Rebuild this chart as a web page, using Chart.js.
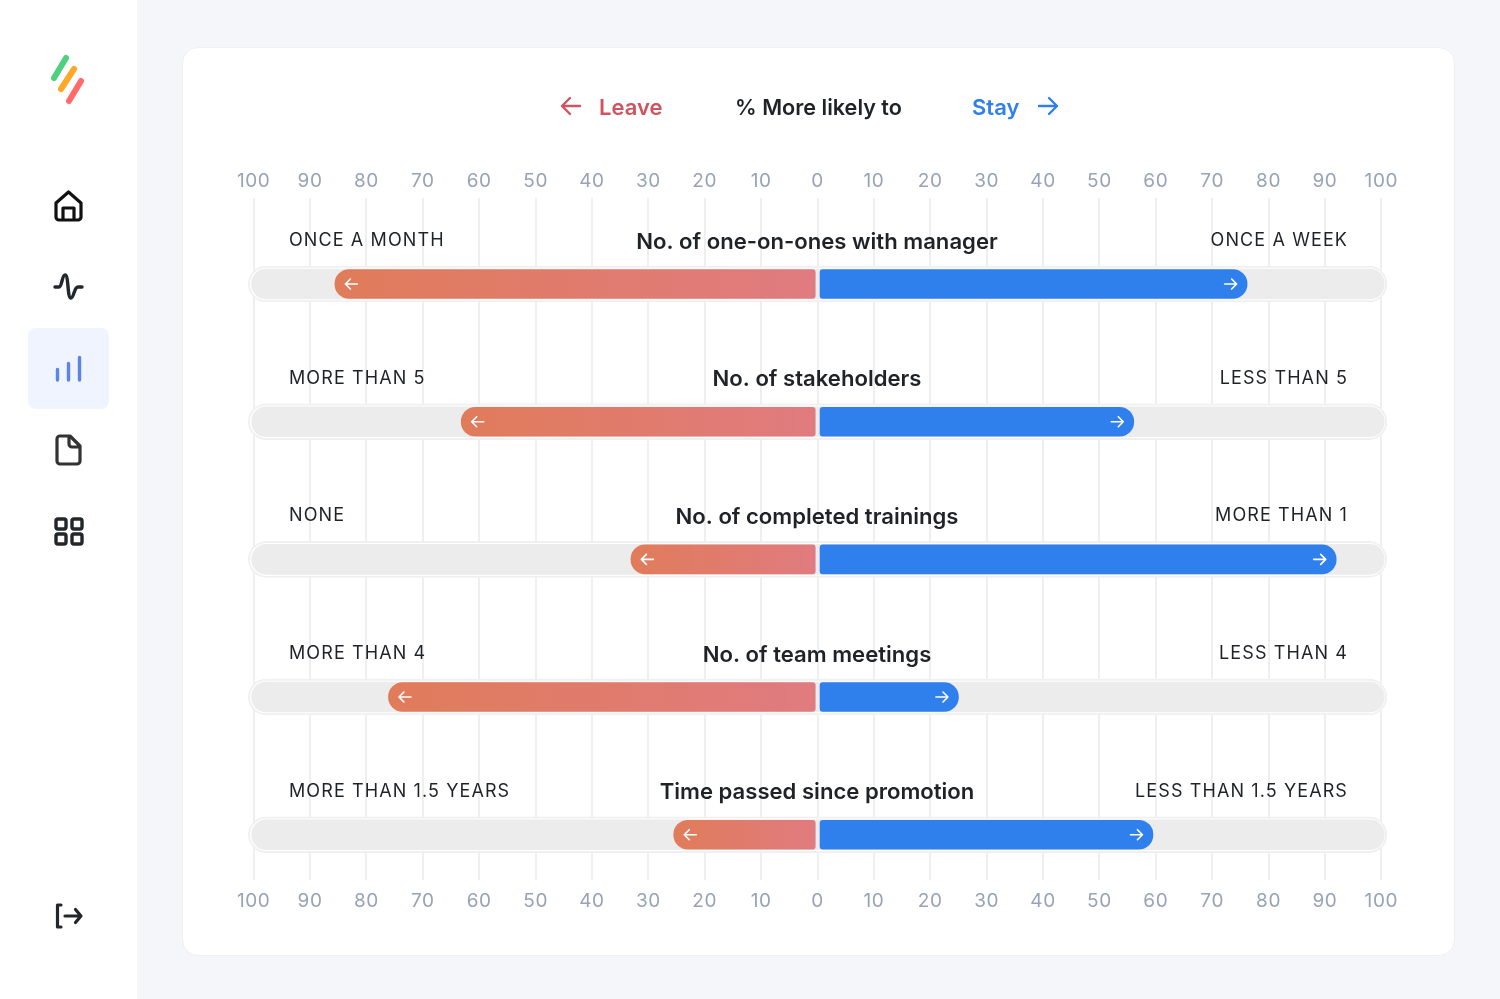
<!DOCTYPE html>
<html>
<head>
<meta charset="utf-8">
<title>% More likely to</title>
<script src="https://cdn.jsdelivr.net/npm/chart.js@4/dist/chart.umd.min.js"></script>
<style>
  html, body { margin: 0; padding: 0; background: #f5f6fa; }
  body { width: 1500px; height: 999px; position: relative; overflow: hidden; font-family: Inter, sans-serif; }
  #sidebar { position: absolute; left: 0; top: 0; width: 137px; height: 999px; background: #fff; }
  #card { position: absolute; left: 182px; top: 47px; width: 1271px; height: 907px; background: #fff; border: 1.5px solid #eef0f3; border-radius: 16px; }
  #chart { position: absolute; left: 0; top: 0; }
  .head { position: absolute; top: 93px; font-size: 22px; font-weight: 600; line-height: 28px; white-space: nowrap; }
  svg.abs { position: absolute; left: 0; top: 0; }
</style>
</head>
<body>
<div id="sidebar"></div>
<div id="card"></div>
<canvas id="chart" width="1500" height="999"></canvas>

<div class="head" style="left:599px;color:#cf5460">Leave</div>
<div class="head" style="left:735px;color:#1f2328;font-size:21.6px">% More likely to</div>
<div class="head" style="left:972px;color:#2f80ed">Stay</div>

<svg class="abs" width="1500" height="999" fill="none" stroke-linecap="round" stroke-linejoin="round">
  <!-- header arrows -->
  <path d="M580 106H562M570 98L562 106L570 114" stroke="#cf5460" stroke-width="2.4"/>
  <path d="M1039 106H1057M1049 98L1057 106L1049 114" stroke="#2f80ed" stroke-width="2.4"/>
  <!-- logo -->
  <path d="M66 58L54 78" stroke="#4ed07f" stroke-width="6"/>
  <path d="M74 69L61 89" stroke="#ffa726" stroke-width="6"/>
  <path d="M81 81L69 101" stroke="#ff6b6b" stroke-width="6"/>
  <!-- nav icons -->
  <path d="M56 203L68.5 192L81 203V217a3 3 0 0 1-3 3H59a3 3 0 0 1-3-3Z M63 220V208H74V220" stroke="#111" stroke-width="3.2"/>
  <path d="M55 287H59C62 287 62 275 65 275C69 275 67 298 71 298C74 298 74 287 78 287H82" stroke="#22272b" stroke-width="3.4"/>
  <rect x="28" y="328" width="81" height="81" rx="8" fill="#f0f4ff"/>
  <path d="M57.5 369.5V380M68.5 363.5V380M79.5 357.5V380" stroke="#5b84e8" stroke-width="3.4"/>
  <path d="M60 436H70L80 446V461a3 3 0 0 1-3 3H60a3 3 0 0 1-3-3V439a3 3 0 0 1 3-3Z M69 436V444a3 3 0 0 0 3 3H80" stroke="#333" stroke-width="3.2"/>
  <g stroke="#22272b" stroke-width="3.4">
    <rect x="56" y="519" width="10" height="10" rx="2"/>
    <rect x="72" y="519" width="10" height="10" rx="2"/>
    <rect x="56" y="534" width="10" height="10" rx="2"/>
    <rect x="72" y="534" width="10" height="10" rx="2"/>
  </g>
  <path d="M61 905H57.5V927H61M65 916H81M75.5 909.5L81 916L75.5 922.5" stroke="#22272b" stroke-width="3.2"/>
</svg>

<script>
const titles = [
  "No. of one-on-ones with manager",
  "No. of stakeholders",
  "No. of completed trainings",
  "No. of team meetings",
  "Time passed since promotion"
];
const leftLabels = ["ONCE A MONTH", "MORE THAN 5", "NONE", "MORE THAN 4", "MORE THAN 1.5 YEARS"];
const rightLabels = ["ONCE A WEEK", "LESS THAN 5", "MORE THAN 1", "LESS THAN 4", "LESS THAN 1.5 YEARS"];
const leaveValues = [85.6, 63.2, 33.1, 76.1, 25.5];
const stayValues = [76.2, 56.1, 92, 25, 59.5];

const rows = titles.map((t, i) => i);

// gradient runs across one bar only, so it needs the finished x scale
function leaveGradient(c) {
  const x = c.chart.scales.x;
  const from = x.getPixelForValue(-leaveValues[c.dataIndex]);
  const to = x.getPixelForValue(0);
  if (!isFinite(from) || !isFinite(to)) return "#e07c5a";
  const g = c.chart.ctx.createLinearGradient(from, 0, to, 0);
  g.addColorStop(0, "#e07c5a");
  g.addColorStop(1, "#e07b80");
  return g;
}

// row texts and the little arrows inside the bars
const rowText = {
  id: "rowText",
  beforeDraw(chart) {
    chart.ctx.letterSpacing = "0.6px";
  },
  afterDatasetsDraw(chart) {
    const ctx = chart.ctx;
    const x = chart.scales.x, y = chart.scales.y;
    ctx.save();
    ctx.strokeStyle = "#fff";
    ctx.lineWidth = 1.6;
    ctx.lineCap = "round";
    ctx.lineJoin = "round";
    rows.forEach(i => {
      const py = y.getPixelForValue(i);
      const lx = x.getPixelForValue(-leaveValues[i]) + 10.5;
      ctx.beginPath();
      ctx.moveTo(lx + 12, py);
      ctx.lineTo(lx, py);
      ctx.moveTo(lx + 5, py - 5);
      ctx.lineTo(lx, py);
      ctx.lineTo(lx + 5, py + 5);
      ctx.stroke();
      const rx = x.getPixelForValue(stayValues[i]) - 10.5;
      ctx.beginPath();
      ctx.moveTo(rx - 12, py);
      ctx.lineTo(rx, py);
      ctx.moveTo(rx - 5, py - 5);
      ctx.lineTo(rx, py);
      ctx.lineTo(rx - 5, py + 5);
      ctx.stroke();
    });
    ctx.textBaseline = "middle";
    rows.forEach(i => {
      const py = y.getPixelForValue(i);
      ctx.fillStyle = "#1f2328";
      ctx.font = "600 22.1px Inter";
      ctx.letterSpacing = "0px";
      ctx.textAlign = "center";
      ctx.fillText(titles[i], 817, py - 42);
      ctx.font = "400 18px Inter";
      ctx.letterSpacing = "1.1px";
      ctx.textAlign = "left";
      ctx.fillText(leftLabels[i], 289, py - 43.5);
      ctx.textAlign = "right";
      ctx.fillText(rightLabels[i], 1348, py - 43.5);
    });
    ctx.restore();
  }
};

const tickStyle = {
  color: "#97a3b6",
  font: { family: "Inter", size: 19 },
  maxRotation: 0,
  autoSkip: false,
  stepSize: 10,
  callback: v => Math.abs(v)
};

new Chart(document.getElementById("chart"), {
  type: "bar",
  plugins: [rowText],
  data: {
    datasets: [
      {
        label: "Leave",
        order: 1,
        barThickness: 29,
        grouped: false,
        borderSkipped: false,
        borderRadius: { topLeft: 14.5, bottomLeft: 14.5, topRight: 3, bottomRight: 3 },
        backgroundColor: leaveGradient,
        data: rows.map(i => ({ x: [-0.4, -leaveValues[i]], y: i }))
      },
      {
        label: "Stay",
        order: 1,
        barThickness: 29,
        grouped: false,
        borderSkipped: false,
        borderRadius: { topLeft: 3, bottomLeft: 3, topRight: 14.5, bottomRight: 14.5 },
        backgroundColor: "#2f80ed",
        data: rows.map(i => ({ x: [0.45, stayValues[i]], y: i }))
      },
      {
        label: "track",
        order: 2,
        clip: false,
        barThickness: 30,
        grouped: false,
        borderSkipped: false,
        borderRadius: 15,
        backgroundColor: "#ececec",
        data: rows.map(i => ({ x: [-100.36, 100.53], y: i }))
      },
      {
        label: "ring",
        order: 3,
        clip: false,
        barThickness: 36,
        grouped: false,
        borderSkipped: false,
        borderRadius: 18,
        borderWidth: 2,
        borderColor: "#f0f0f0",
        backgroundColor: "#fff",
        data: rows.map(i => ({ x: [-100.96, 101], y: i }))
      }
    ]
  },
  options: {
    indexAxis: "y",
    responsive: false,
    animation: false,
    layout: { padding: { left: 253.7, right: 118.7, top: 168, bottom: 89 } },
    plugins: { legend: { display: false }, tooltip: { enabled: false } },
    scales: {
      x: {
        type: "linear",
        min: -100,
        max: 100,
        position: "bottom",
        afterFit: s => { s.height = 30; },
        grid: { color: "#efefef", lineWidth: 2, drawTicks: false },
        border: { display: false },
        ticks: { ...tickStyle, padding: 10 }
      },
      x2: {
        type: "linear",
        min: -100,
        max: 100,
        position: "top",
        afterFit: s => { s.height = 30; },
        grid: { display: false, drawTicks: false },
        border: { display: false },
        ticks: { ...tickStyle, padding: 5 }
      },
      y: {
        type: "linear",
        display: false,
        reverse: true,
        offset: false,
        min: -0.625,
        max: 4.329
      }
    }
  }
});
</script>
</body>
</html>
